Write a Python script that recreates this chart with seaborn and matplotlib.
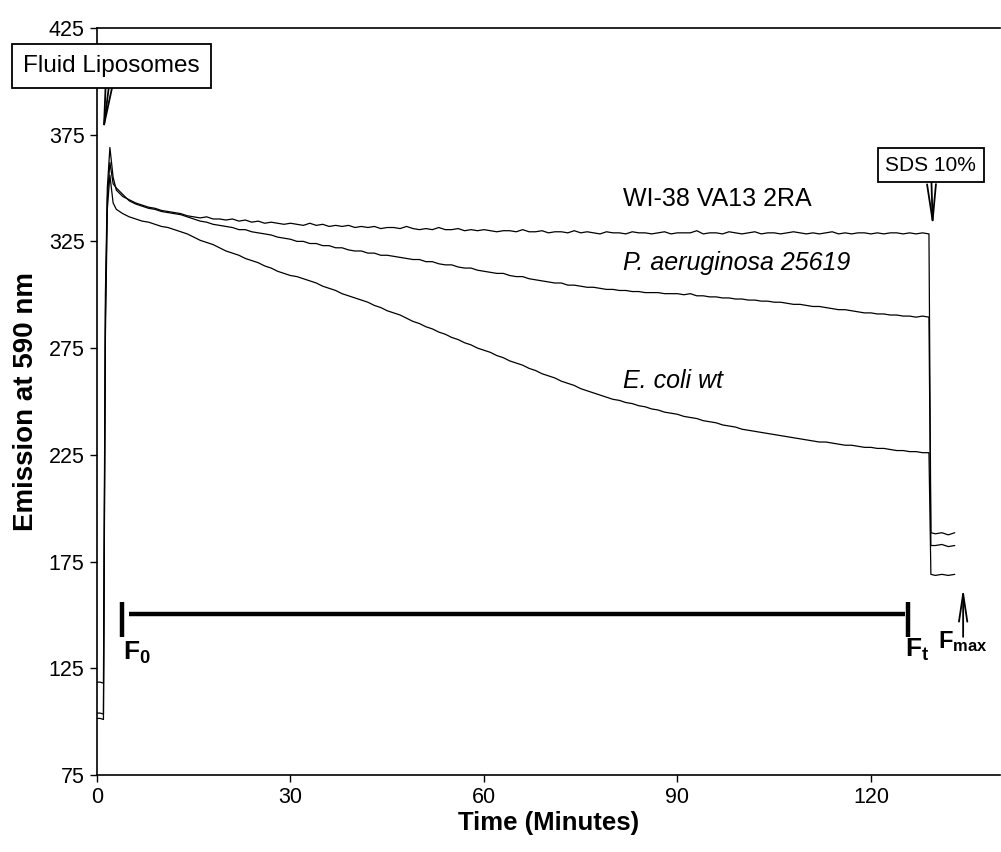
import matplotlib
matplotlib.use("Agg")
import matplotlib.pyplot as plt
import seaborn as sns
import pandas as pd

# ---------------- data ----------------
time_min = ([0, 0.5, 1.0, 1.3, 1.6, 2.0, 2.5] + list(range(3, 130)) +
            [129.3, 130, 131, 132, 133])

wi38 = ([118.5, 118.5, 118.0, 300, 350, 369, 355] +
        [349, 346, 344.5, 343, 342, 341, 340.5, 339.5,
         339, 338.5, 338, 337, 336.5, 336, 336.5, 335.5, 335.5, 335,
         335.5, 334.5, 335, 334, 334.5, 333.5, 334, 333.5, 333, 333.5,
         333, 332.5, 333.5, 332.5, 333, 332, 332.5, 332, 332.5, 331.5,
         332, 331.5, 332, 331, 331.5, 331.5, 331, 332, 331, 330.5,
         331, 330.5, 331.5, 330.5, 330.5, 331, 330, 330.5, 330, 330.5,
         330, 329.5, 330, 330, 329.5, 330.5, 329.5, 329.5, 330, 329,
         329.5, 329.5, 329, 330, 329, 329.5, 329, 328.5, 329.5, 329,
         329, 328.5, 329.5, 329, 329, 328.5, 329, 329.5, 328.5, 329,
         329, 329, 330, 328.5, 329, 329, 328.5, 329.5, 329, 328.5,
         329, 329.5, 328.5, 329, 329, 328.5, 329, 329.5, 329, 328.5,
         329, 328.5, 329, 329.5, 328.5, 329, 328.5, 329, 329, 328.5,
         329, 328.5, 329, 329, 328.5, 329, 328.5, 329, 328.5] +
        [188.5, 188, 188.5, 187.5, 188.5])

p_aeruginosa = ([104, 104, 103.5, 290, 345, 362, 352] +
                [350, 347, 344, 342.5, 341.5, 340.5, 340, 339,
                 338.5, 338, 337.5, 336.5, 335.5, 334.5, 334, 333, 332.5, 332,
                 331.5, 330.5, 330.5, 329.5, 329, 328.5, 328, 327, 326.5, 326,
                 325, 325, 324, 324, 323, 323, 322, 322, 321, 320.5,
                 320.5, 319.5, 319.5, 318.5, 318.5, 318, 317.5, 317, 316.5, 316.5,
                 315.5, 315.5, 314.5, 314, 314, 313, 312.5, 312.5, 311.5, 311,
                 310.5, 310, 310, 309, 308.5, 308.5, 307.5, 307, 306.5, 306,
                 305.5, 305.5, 304.5, 304.5, 304, 303.5, 303.5, 303, 302.5, 302.5,
                 302, 302, 301.5, 301.5, 301, 301, 301, 300.5, 300.5, 300.5,
                 300, 300.5, 299.5, 299.5, 299, 299, 298.5, 298.5, 298, 298,
                 297.5, 297.5, 297, 297, 296.5, 296.5, 296, 295.5, 295.5, 295,
                 294.5, 294.5, 294, 293.5, 293, 293, 292.5, 292, 291.5, 291.5,
                 291, 291, 290.5, 290.5, 290, 290, 289.5, 290, 289.5] +
                [182.5, 182.5, 183, 182, 182.5])

e_coli = ([101.5, 101.5, 101, 280, 340, 356, 343] +
          [340, 338, 336.5, 335.5, 334.5, 334, 333, 332,
           331.5, 330.5, 329.5, 328.5, 327, 325.5, 324.5, 323.5, 322, 320.5,
           319.5, 318.5, 317, 316, 315, 313.5, 312.5, 311, 310, 309,
           308.5, 307.5, 306.5, 305.5, 304, 303, 302, 300.5, 299.5, 298.5,
           297.5, 296.5, 295, 294, 292.5, 291.5, 290.5, 289, 287.5, 286.5,
           285, 284, 282.5, 281.5, 280, 279, 277.5, 276.5, 275, 274,
           273, 271.5, 270.5, 269, 268, 267, 265.5, 264.5, 263, 262,
           261, 259.5, 258.5, 257.5, 256, 255, 254, 253, 252, 251,
           250.5, 249.5, 249, 248, 247.5, 246.5, 246, 245, 244.5, 244,
           243, 242.5, 242, 241, 240.5, 240, 239, 238.5, 238, 237,
           236.5, 236, 235.5, 235, 234.5, 234, 233.5, 233, 232.5, 232,
           231.5, 231, 231, 230.5, 230, 229.5, 229.5, 229, 228.5, 228.5,
           228, 228, 227.5, 227, 227, 226.5, 226.5, 226, 226] +
          [169, 168.5, 169, 168.5, 169])

series_names = ["WI-38 VA13 2RA", "P. aeruginosa 25619", "E. coli wt"]
x_ticks = [0, 30, 60, 90, 120]
y_ticks = [75, 125, 175, 225, 275, 325, 375, 425]

# annotation anchors (data units)
f_bar = [5.0, 125.3, 150.3]          # start, end, level
f_ticks_x = [3.9, 125.7]
f_ticks_y = [139.8, 156.2]

# ---------------- figure ----------------
sns.set_theme(style="white")
plt.rcParams["font.family"] = ["Liberation Sans", "DejaVu Sans"]
plt.rcParams["text.color"] = "black"
plt.rcParams["axes.labelcolor"] = "black"
plt.rcParams["xtick.color"] = "black"
plt.rcParams["ytick.color"] = "black"
plt.rcParams["mathtext.fontset"] = "custom"
plt.rcParams["mathtext.rm"] = "Liberation Sans"
plt.rcParams["mathtext.bf"] = "Liberation Sans:bold"
plt.rcParams["mathtext.it"] = "Liberation Sans:italic"

fig = plt.figure(figsize=(10.01, 8.52), dpi=100)
ax = fig.add_axes([0.0969, 0.0904, 0.902, 0.8768])

df = pd.DataFrame({"time": time_min * 3,
                   "value": wi38 + p_aeruginosa + e_coli,
                   "series": sum([[n] * len(time_min) for n in series_names], [])})
for name in series_names:
    sub = df[df["series"] == name]
    sns.lineplot(data=sub, x="time", y="value", ax=ax, color="black",
                 linewidth=0.9, estimator=None, sort=False)

ax.set_xlim(0, 140)
ax.set_ylim(75, 425)
ax.set_xticks(x_ticks)
ax.set_yticks(y_ticks)
ax.tick_params(axis="both", which="major", bottom=True, left=True,
               direction="out", length=5, width=1, labelsize=15.5, pad=4,
               colors="black")
for s in ["left", "bottom", "top"]:
    ax.spines[s].set_visible(True)
    ax.spines[s].set_color("black")
    ax.spines[s].set_linewidth(1.2)
ax.spines["right"].set_visible(False)
ax.grid(False)

ax.set_xlabel("Time (Minutes)", fontsize=18.5, fontweight="bold", labelpad=2,
              color="black")
ax.set_ylabel("Emission at 590 nm", fontsize=20, fontweight="bold",
              labelpad=7, color="black")

# series labels
ax.text(81.5, 345, series_names[0], fontsize=18, ha="left", va="center",
        color="black")
ax.text(81.5, 315, series_names[1], fontsize=18, ha="left", va="center",
        style="italic", color="black")
ax.text(81.5, 259.5, series_names[2], fontsize=18, ha="left", va="center",
        style="italic", color="black")

# F bar
ax.plot([f_bar[0], f_bar[1]], [f_bar[2], f_bar[2]], color="black", lw=3.2,
        solid_capstyle="butt")
for fx in f_ticks_x:
    ax.plot([fx, fx], f_ticks_y, color="black", lw=3.2, solid_capstyle="butt")
ax.text(4.0, 129, r"$\mathbf{F_0}$", fontsize=19, ha="left", va="baseline")
ax.text(125.3, 130.3, r"$\mathbf{F_t}$", fontsize=19, ha="left",
        va="baseline")
ax.text(130.4, 134.5, r"$\mathbf{F_{max}}$", fontsize=17, ha="left",
        va="baseline")
ax.annotate("", xy=(134.3, 162.7), xytext=(134.3, 139.7),
            arrowprops=dict(arrowstyle="->,head_length=1.0,head_width=0.15",
                            color="black", lw=1.3, mutation_scale=20,
                            shrinkA=0, shrinkB=0))

# boxed annotations
ax.annotate("Fluid Liposomes", xy=(0.9, 375), xycoords="data",
            xytext=(0.1114, 0.9225), textcoords="figure fraction",
            fontsize=17.5, ha="center", va="center", color="black",
            bbox=dict(boxstyle="square,pad=0.45", fc="white", ec="black",
                      lw=1.3),
            arrowprops=dict(arrowstyle="->,head_length=1.6,head_width=0.14",
                            color="black", lw=1.3, mutation_scale=20,
                            shrinkA=0, shrinkB=0))
ax.annotate("SDS 10%", xy=(129.6, 331.4), xycoords="data",
            xytext=(0.930, 0.8063), textcoords="figure fraction",
            fontsize=15, ha="center", va="center", color="black",
            bbox=dict(boxstyle="square,pad=0.35", fc="white", ec="black",
                      lw=1.3),
            arrowprops=dict(arrowstyle="->,head_length=1.3,head_width=0.16",
                            color="black", lw=1.3, mutation_scale=20,
                            shrinkA=0, shrinkB=0))

fig.savefig("out.png", dpi=100, facecolor="white")
